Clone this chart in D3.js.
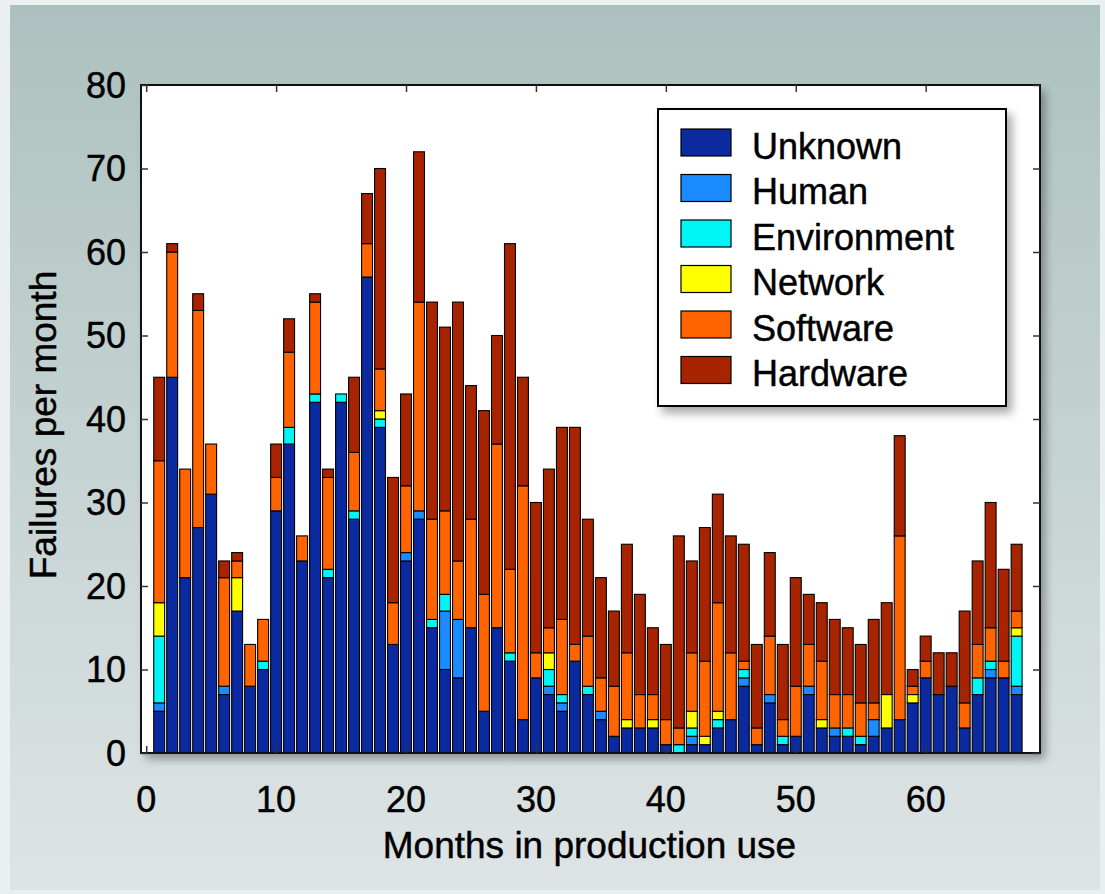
<!DOCTYPE html>
<html>
<head>
<meta charset="utf-8">
<script src="https://cdn.jsdelivr.net/npm/d3@7"></script>
<style>
  body { margin: 0; background: #eaefef; }
  svg { display: block; }
  text { font-family: "Liberation Sans", Arial, Helvetica, sans-serif; fill: #000; stroke: #000; stroke-width: 0.45px; }
</style>
</head>
<body>
<svg width="1105" height="894"></svg>
<script>
// Failures per month, by root cause, months 1..67
const months = d3.range(1, 68);
const causes = ["Unknown", "Human", "Environment", "Network", "Software", "Hardware"];
const causeColors = ["#0c2a9f", "#1a8cff", "#00f5f5", "#ffff00", "#ff6400", "#a82300"];

const unknown = [5,45,21,27,31,7,17,8,10,29, 37,23,42,21,42,28,57,39,13,23, 28,15,10,9,15,5,15,11,4,9,
  7,5,11,7,4,2,3,3,3,1, 0,1,1,3,4,8,1,6,1,2, 7,3,2,2,1,2,3,4,6,9, 7,8,3,7,9,9,7];
const human = [1,0,0,0,0,1,0,0,0,0, 0,0,0,0,0,0,0,0,0,1, 1,0,7,7,0,0,0,0,0,0,
  1,1,0,0,1,0,0,0,0,0, 0,1,0,0,0,1,0,1,0,0, 1,0,1,0,0,2,0,0,0,0, 0,0,0,0,1,0,1];
const environment = [8,0,0,0,0,0,0,0,1,0, 2,0,1,1,1,1,0,1,0,0, 0,1,2,0,0,0,0,1,0,0,
  2,1,0,1,0,0,0,0,0,0, 1,1,0,1,0,1,0,0,1,0, 0,0,0,1,1,0,0,0,0,0, 0,0,0,2,1,0,6];
const network = [4,0,0,0,0,0,4,0,0,0, 0,0,0,0,0,0,0,1,0,0, 0,0,0,0,0,0,0,0,0,0,
  2,0,0,0,0,0,1,0,1,0, 0,2,1,1,0,0,0,0,0,0, 0,1,0,0,0,0,4,0,1,0, 0,0,0,0,0,0,1];
const software = [17,15,13,26,6,13,2,5,5,4, 9,3,11,11,0,7,4,5,5,8, 25,12,10,7,13,14,22,10,28,3,
  3,9,2,6,4,6,8,4,3,3, 2,7,9,13,8,1,2,7,2,6, 5,7,4,4,4,2,0,22,1,2, 0,0,3,4,4,2,2];
const hardware = [10,1,0,2,0,2,1,0,0,4, 4,0,1,1,0,9,6,24,15,11, 18,26,22,31,16,22,13,39,13,18,
  19,23,26,14,12,9,13,12,8,9, 23,11,16,13,14,14,10,10,9,13, 6,7,9,8,7,10,11,12,2,3, 5,4,11,10,15,11,8];

const xTicks = [0, 10, 20, 30, 40, 50, 60];
const yTicks = [0, 10, 20, 30, 40, 50, 60, 70, 80];

const series = [unknown, human, environment, network, software, hardware];
const rows = months.map((m, i) => {
  const r = { month: m };
  causes.forEach((c, k) => r[c] = series[k][i]);
  return r;
});

const svg = d3.select("svg");

// Background panel with vertical gradient
const defs = svg.append("defs");
const grad = defs.append("linearGradient")
  .attr("id", "bg").attr("x1", 0).attr("y1", 0).attr("x2", 0).attr("y2", 1);
grad.append("stop").attr("offset", "0%").attr("stop-color", "#acc1bf");
grad.append("stop").attr("offset", "100%").attr("stop-color", "#dee4e5");

const shadow = defs.append("filter").attr("id", "shadow")
  .attr("x", "-5%").attr("y", "-5%").attr("width", "115%").attr("height", "115%");
shadow.append("feDropShadow")
  .attr("dx", 5).attr("dy", 6).attr("stdDeviation", 5)
  .attr("flood-color", "#000").attr("flood-opacity", 0.35);

svg.append("rect")
  .attr("x", 10).attr("y", 5).attr("width", 1090).attr("height", 885)
  .attr("fill", "url(#bg)");

const plot = { left: 141, right: 1040, top: 85, bottom: 753 };

const x = d3.scaleLinear().domain([-0.4, 68.8]).range([plot.left, plot.right]);
const y = d3.scaleLinear().domain([0, 80]).range([plot.bottom, plot.top]);
const color = d3.scaleOrdinal(causes, causeColors);

// Plot background
svg.append("rect")
  .attr("x", plot.left).attr("y", plot.top)
  .attr("width", plot.right - plot.left).attr("height", plot.bottom - plot.top)
  .attr("fill", "#fff")
  .attr("filter", "url(#shadow)");

// Stacked bars
const stacked = d3.stack().keys(causes)(rows);
const barW = 0.84 * (x(1) - x(0));

svg.append("g")
  .selectAll("g")
  .data(stacked)
  .join("g")
    .attr("fill", d => color(d.key))
  .selectAll("rect")
  .data(d => d.filter(s => s[1] > s[0]))
  .join("rect")
    .attr("x", d => x(d.data.month) - barW / 2)
    .attr("y", d => y(d[1]))
    .attr("width", barW)
    .attr("height", d => y(d[0]) - y(d[1]))
    .attr("stroke", "#000")
    .attr("stroke-width", 1.1);

// Frame
svg.append("rect")
  .attr("x", plot.left).attr("y", plot.top)
  .attr("width", plot.right - plot.left).attr("height", plot.bottom - plot.top)
  .attr("fill", "none").attr("stroke", "#111").attr("stroke-width", 2);

// Axes (ticks inward, MATLAB style)
const tickLen = 7;
const axisFont = "36px";

const yAxisL = svg.append("g")
  .attr("transform", `translate(${plot.left},0)`)
  .call(d3.axisRight(y).tickValues(yTicks).tickSize(tickLen).tickFormat(""));
const yAxisR = svg.append("g")
  .attr("transform", `translate(${plot.right},0)`)
  .call(d3.axisLeft(y).tickValues(yTicks).tickSize(tickLen).tickFormat(""));
const xAxisT = svg.append("g")
  .attr("transform", `translate(0,${plot.top})`)
  .call(d3.axisBottom(x).tickValues(xTicks).tickSize(tickLen).tickFormat(""));
const xAxisB = svg.append("g")
  .attr("transform", `translate(0,${plot.bottom})`)
  .call(d3.axisTop(x).tickValues(xTicks).tickSize(tickLen).tickFormat(""));
[yAxisL, yAxisR, xAxisT, xAxisB].forEach(a => {
  a.select(".domain").remove();
  a.selectAll("line").attr("stroke", "#333").attr("stroke-width", 1.5);
});

// Tick labels
svg.append("g")
  .selectAll("text")
  .data(yTicks)
  .join("text")
    .attr("x", plot.left - 15)
    .attr("y", d => y(d))
    .attr("dy", "0.36em")
    .attr("text-anchor", "end")
    .style("font-size", axisFont)
    .text(d => d);

svg.append("g")
  .selectAll("text")
  .data(xTicks)
  .join("text")
    .attr("x", d => x(d))
    .attr("y", plot.bottom + 59)
    .attr("text-anchor", "middle")
    .style("font-size", axisFont)
    .text(d => d);

// Axis titles
svg.append("text")
  .attr("x", (plot.left + plot.right) / 2 - 1)
  .attr("y", 858)
  .attr("text-anchor", "middle")
  .style("font-size", "37px")
  .text("Months in production use");

svg.append("text")
  .attr("transform", `translate(56,${(plot.top + plot.bottom) / 2 + 6}) rotate(-90)`)
  .attr("text-anchor", "middle")
  .style("font-size", "37px")
  .text("Failures per month");

// Legend
const legend = { x: 658, y: 109, w: 348, h: 297 };
svg.append("rect")
  .attr("x", legend.x).attr("y", legend.y)
  .attr("width", legend.w).attr("height", legend.h)
  .attr("fill", "#fff").attr("stroke", "#000").attr("stroke-width", 2)
  .attr("filter", "url(#shadow)");

const item = svg.append("g")
  .selectAll("g")
  .data(causes)
  .join("g")
    .attr("transform", (d, i) => `translate(${legend.x + 23},${legend.y + 20 + i * 45.5})`);
item.append("rect")
  .attr("width", 50).attr("height", 27)
  .attr("fill", d => color(d))
  .attr("stroke", "#000").attr("stroke-width", 1.2);
item.append("text")
  .attr("x", 71).attr("y", 17)
  .attr("dy", "0.36em")
  .style("font-size", "36px")
  .text(d => d);
</script>
</body>
</html>
